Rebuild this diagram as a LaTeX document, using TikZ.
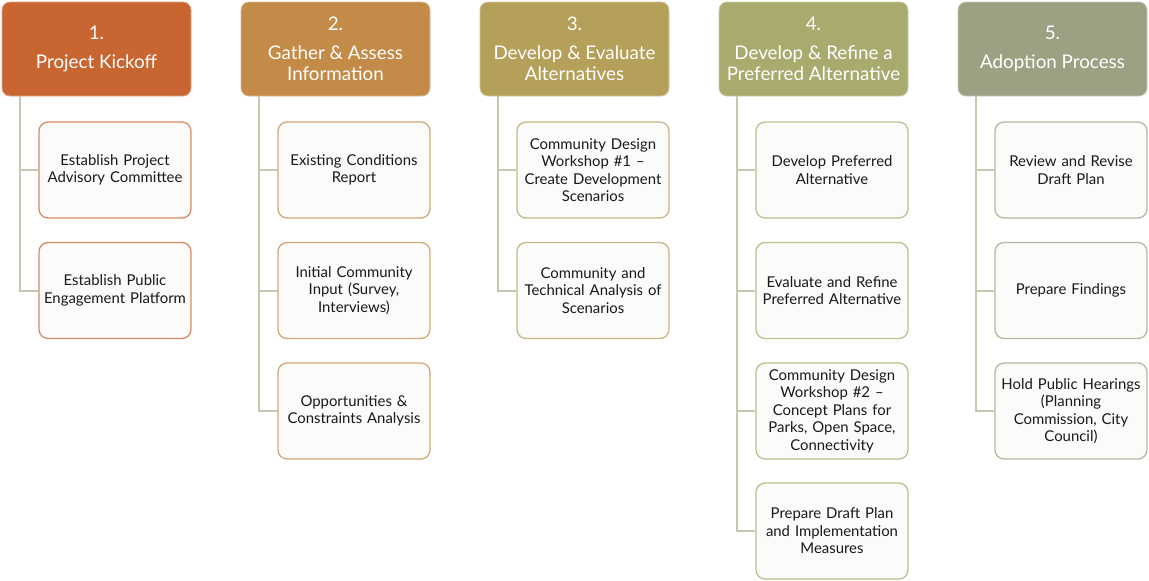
\documentclass[tikz,border=0pt]{standalone}
\usepackage{fontspec}
\setmainfont{Lato}
\usetikzlibrary{calc}
\definecolor{hA}{RGB}{201,101,48}
\definecolor{hB}{RGB}{196,139,72}
\definecolor{hC}{RGB}{181,160,90}
\definecolor{hD}{RGB}{168,170,110}
\definecolor{hE}{RGB}{154,162,131}
\definecolor{conncol}{RGB}{197,201,178}
\definecolor{childfill}{RGB}{251,251,250}
\tikzset{
  header/.style={rectangle, rounded corners=8pt, fill=#1, draw=#1!60!white, line width=0.8pt,
    minimum width=189pt, minimum height=94pt, text=white, align=center, inner sep=2pt,
    font=\fontsize{18.8}{21}\selectfont},
  child/.style={rectangle, rounded corners=9pt, fill=childfill, draw=#1!75!white, line width=1.3pt,
    minimum width=152pt, minimum height=96pt, text=black!90, align=center, text width=148pt, inner sep=2pt,
    font=\fontsize{14.9}{17.5}\selectfont},
  conn/.style={draw=conncol, line width=2pt}
}
\begin{document}
\begin{tikzpicture}[x=1pt,y=-1pt]
\useasboundingbox (0,0) rectangle (1149,581);
% headers
\node[header=hA] (h1) at (96.5,49) {1.\\[8pt]Project Kickoff};
\node[header=hB] (h2) at (335.5,49) {2.\\[8pt]Gather \& Assess\\Information};
\node[header=hC] (h3) at (574.5,49) {3.\\[8pt]Develop \& Evaluate\\Alternatives};
\node[header=hD] (h4) at (813.5,49) {4.\\[8pt]Develop \& Refine a\\Preferred Alternative};
\node[header=hE] (h5) at (1052.5,49) {5.\\[8pt]Adoption Process};
% column 1
\node[child=hA] (c1a) at (115,170) {Establish Project\\Advisory Committee};
\node[child=hA] (c1b) at (115,290.5) {Establish Public\\Engagement Platform};
% column 2
\node[child=hB] (c2a) at (354,170) {Existing Conditions\\Report};
\node[child=hB] (c2b) at (354,290.5) {Initial Community\\Input (Survey,\\Interviews)};
\node[child=hB] (c2c) at (354,411) {Opportunities \&\\Constraints Analysis};
% column 3
\node[child=hC] (c3a) at (593,170) {Community Design\\Workshop \#1 --\\Create Development\\Scenarios};
\node[child=hC] (c3b) at (593,290.5) {Community and\\Technical Analysis of\\Scenarios};
% column 4
\node[child=hD] (c4a) at (832,170) {Develop Preferred\\Alternative};
\node[child=hD] (c4b) at (832,290.5) {Evaluate and Refine\\Preferred Alternative};
\node[child=hD] (c4c) at (832,411) {Community Design\\Workshop \#2 --\\Concept Plans for\\Parks, Open Space,\\Connectivity};
\node[child=hD] (c4d) at (832,531) {Prepare Draft Plan\\and Implementation\\Measures};
% column 5
\node[child=hE] (c5a) at (1071,170) {Review and Revise\\Draft Plan};
\node[child=hE] (c5b) at (1071,290.5) {Prepare Findings};
\node[child=hE] (c5c) at (1071,411) {Hold Public Hearings\\(Planning\\Commission, City\\Council)};
% connectors
\foreach \h/\list in {h1/{c1a,c1b}, h2/{c2a,c2b,c2c}, h3/{c3a,c3b}, h4/{c4a,c4b,c4c,c4d}, h5/{c5a,c5b,c5c}}{
  \foreach \c in \list {
    \draw[conn] ([xshift=18pt]\h.south west) |- (\c.west);
  }
}
\end{tikzpicture}
\end{document}
